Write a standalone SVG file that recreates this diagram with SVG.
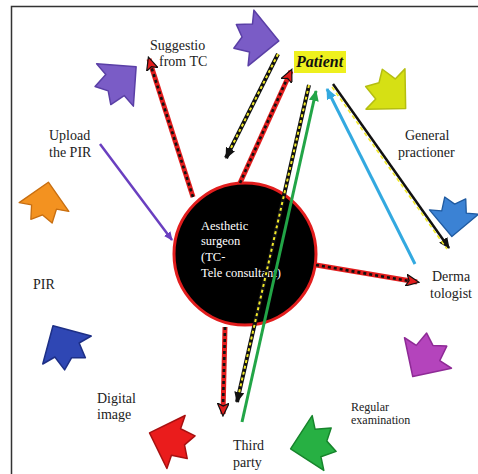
<svg xmlns="http://www.w3.org/2000/svg" width="478" height="474" viewBox="0 0 478 474">
<style>
.lbl{font-family:"Liberation Serif","DejaVu Serif",serif;font-size:14px;fill:#222}
.small{font-size:12px}
.wt{font-family:"Liberation Serif","DejaVu Serif",serif;font-size:12.5px;fill:#fff}
.blk{stroke-width:1.5;stroke-linejoin:round}
.redl{stroke:#e21d1d;stroke-width:5;fill:none}
.redd{stroke:#111;stroke-width:2.6;stroke-dasharray:3 3;fill:none}
.ydl{stroke:#111;stroke-width:4;fill:none}
.ydd{stroke:#f2ea2a;stroke-width:2;stroke-dasharray:3 3;fill:none}
</style>
<defs>
<path id="ba" d="M28,0 L0,-28 L0,-14 L-16,-12 L-9,0 L-16,12 L0,14 L0,28 Z"/>
<marker id="mr" markerUnits="userSpaceOnUse" markerWidth="14" markerHeight="12" refX="11" refY="6" orient="auto"><path d="M0,0 L13,6 L0,12 L3,6 Z" fill="#e21d1d" stroke="#111" stroke-width="1.2"/></marker>
<marker id="mk" markerUnits="userSpaceOnUse" markerWidth="12" markerHeight="10" refX="10" refY="5" orient="auto"><path d="M0,0 L11,5 L0,10 Z" fill="#111"/></marker>
<marker id="mg" markerUnits="userSpaceOnUse" markerWidth="12" markerHeight="10" refX="10" refY="5" orient="auto"><path d="M0,0 L11,5 L0,10 Z" fill="#22a547"/></marker>
<marker id="mb" markerUnits="userSpaceOnUse" markerWidth="12" markerHeight="10" refX="10" refY="5" orient="auto"><path d="M0,0 L11,5 L0,10 Z" fill="#33a9e0"/></marker>
<marker id="mp" markerUnits="userSpaceOnUse" markerWidth="10" markerHeight="8" refX="8" refY="4" orient="auto"><path d="M0,0 L9,4 L0,8 Z" fill="#6a3fc0"/></marker>
</defs>
<rect width="478" height="474" fill="#fff"/>
<path d="M11.5,474 L11.5,6.5 L478,6.5" fill="none" stroke="#333" stroke-width="1.5"/>

<g id="cycle-arrows">
<use href="#ba" class="blk" fill="#7a5cc6" stroke="#5a3fa6" transform="translate(251,38) rotate(6)"/>
<use href="#ba" class="blk" fill="#7a5cc6" stroke="#5a3fa6" transform="translate(115,85) rotate(-41)"/>
<use href="#ba" class="blk" fill="#d6e014" stroke="#b5be10" transform="translate(385.5,89) rotate(44)"/>
<use href="#ba" class="blk" fill="#3b82d4" stroke="#1f5aa0" transform="translate(454,212) rotate(95) scale(0.88)"/>
<use href="#ba" class="blk" fill="#b444bc" stroke="#8e2a96" transform="translate(428,353) rotate(123)"/>
<use href="#ba" class="blk" fill="#27b043" stroke="#17852c" transform="translate(318,443) rotate(168)"/>
<use href="#ba" class="blk" fill="#ea1c1c" stroke="#a81010" transform="translate(176,442) rotate(199)"/>
<use href="#ba" class="blk" fill="#2f47b4" stroke="#1d2f86" transform="translate(67,350) rotate(240)"/>
<use href="#ba" class="blk" fill="#f39220" stroke="#c86e10" transform="translate(44,207) rotate(-80) scale(0.9)"/>
</g>

<g id="surgeon">
<ellipse cx="245" cy="254" rx="71" ry="71" fill="#000" stroke="#e21d1d" stroke-width="3"/>
<text class="wt" x="201" y="230">Aesthetic</text>
<text class="wt" x="201" y="245">surgeon</text>
<text class="wt" x="201" y="261">(TC-</text>
<text class="wt" x="201" y="277">Tele consultant)</text>
</g>

<g id="patient">
<rect x="294" y="51" width="52" height="22" fill="#eef01e"/>
<text x="296" y="67" font-family="'Liberation Serif','DejaVu Serif',serif" font-size="16" font-weight="bold" font-style="italic" fill="#111">Patient</text>
</g>

<g id="suggestion"><text class="lbl" x="150" y="50">Suggestio</text><text class="lbl" x="159" y="66">from TC</text></g>
<g id="upload"><text class="lbl" x="49" y="140">Upload</text><text class="lbl" x="49" y="157">the PIR</text></g>
<g id="gp"><text class="lbl" x="405" y="140">General</text><text class="lbl" x="398" y="157">practioner</text></g>
<g id="derma"><text class="lbl" x="432" y="281" font-size="15">Derma</text><text class="lbl" x="430" y="298" font-size="15">tologist</text></g>
<g id="pir"><text class="lbl" x="33" y="289">PIR</text></g>
<g id="digital"><text class="lbl" x="97" y="403">Digital</text><text class="lbl" x="97" y="419">image</text></g>
<g id="third"><text class="lbl" x="233" y="450">Third</text><text class="lbl" x="233" y="467">party</text></g>
<g id="regular"><text class="lbl small" x="351" y="411">Regular</text><text class="lbl small" x="351" y="424">examination</text></g>

<g id="connectors">
<line x1="100" y1="144" x2="172" y2="240" stroke="#6a3fc0" stroke-width="2.5" marker-end="url(#mp)"/>
<line class="redl" x1="193" y1="197" x2="149" y2="59" marker-end="url(#mr)"/>
<line class="redd" x1="193" y1="197" x2="151" y2="66"/>
<line class="redl" x1="240" y1="183" x2="291" y2="71" marker-end="url(#mr)"/>
<line class="redd" x1="240" y1="183" x2="287" y2="79"/>
<line class="redl" x1="316" y1="265" x2="417" y2="282" marker-end="url(#mr)"/>
<line class="redd" x1="316" y1="265" x2="409" y2="281"/>
<line class="redl" x1="225" y1="327" x2="223" y2="414" marker-end="url(#mr)"/>
<line class="redd" x1="225" y1="327" x2="223" y2="406"/>
<line class="ydl" x1="278" y1="54" x2="226" y2="158" marker-end="url(#mk)"/>
<line class="ydd" x1="278" y1="54" x2="230" y2="150"/>
<line class="ydl" x1="309" y1="85" x2="237" y2="402" marker-end="url(#mk)"/>
<line class="ydd" x1="309" y1="85" x2="239" y2="393"/>
<line x1="242" y1="422" x2="316" y2="91" stroke="#22a547" stroke-width="3" marker-end="url(#mg)"/>
<line x1="415" y1="264" x2="327" y2="89" stroke="#33a9e0" stroke-width="3" marker-end="url(#mb)"/>
<line x1="333" y1="84" x2="449" y2="248" stroke="#111" stroke-width="2.5" marker-end="url(#mk)"/>
<line x1="332" y1="87" x2="447" y2="249" stroke="#f2ea2a" stroke-width="1.6" stroke-dasharray="4 3"/>
</g>
</svg>
